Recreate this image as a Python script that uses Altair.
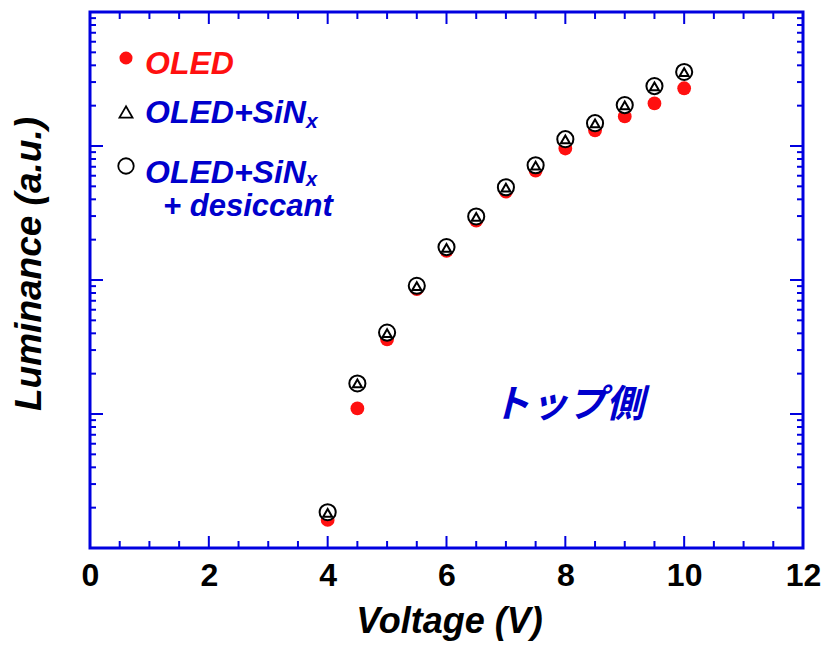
import altair as alt
import pandas as pd

# ---- data ----
voltage = [4.0, 4.5, 5.0, 5.5, 6.0, 6.5, 7.0, 7.5, 8.0, 8.5, 9.0, 9.5, 10.0]
lum_oled = [1.62, 11.0, 36.1, 85.6, 165, 277, 456, 655, 958, 1306, 1663, 2080, 2697]
lum_sin = [1.83, 16.9, 40.1, 90.2, 174, 296, 489, 714, 1119, 1475, 2011, 2790, 3553]
lum_sin_des = [1.85, 16.9, 40.5, 90.5, 176, 298, 492, 718, 1125, 1480, 2020, 2800, 3570]

x_ticks_major = [0, 2, 4, 6, 8, 10, 12]
x_ticks_minor = [0.5, 1, 1.5, 2.5, 3, 3.5, 4.5, 5, 5.5, 6.5, 7, 7.5, 8.5, 9, 9.5, 10.5, 11, 11.5]
y_ticks_major = [1, 10, 100, 1000, 10000]
y_ticks_minor = [m * d for d in [1, 10, 100, 1000] for m in range(2, 10)]

legend_labels = ["OLED", "OLED+SiN", "OLED+SiN", "+ desiccant"]
legend_sub = ["x", "x"]
annotation = ["トップ側"]
x_title = ["Voltage (V)"]
y_title = ["Luminance (a.u.)"]

BLUE = "#0000E0"
TBLUE = "#0000CC"
RED = "#FF1010"
FONT = "Liberation Sans"
W, H = 713, 536

xs = alt.Scale(domain=[0, 12], nice=False, zero=False)
ys = alt.Scale(type="log", domain=[1, 10000], nice=False)
xaxis = alt.Axis(values=x_ticks_major, format="d", ticks=False, domain=False, grid=False,
                 labelFont=FONT, labelFontSize=32, labelFontWeight="bold",
                 labelColor="black", labelPadding=12, title=None, labelFlush=False)


def X(field):
    return alt.X(field, type="quantitative", scale=xs, axis=xaxis)


def Y(field):
    return alt.Y(field, type="quantitative", scale=ys, axis=None)


df = pd.DataFrame({"v": voltage, "a": lum_oled, "b": lum_sin, "c": lum_sin_des})

red = alt.Chart(df).mark_circle(size=190, color=RED, opacity=1).encode(x=X("v"), y=Y("a"))
circ = alt.Chart(df).mark_point(shape="circle", size=260, filled=True, fill="white",
                                stroke="black", strokeWidth=2, opacity=1).encode(x=X("v"), y=Y("c"))
tri = alt.Chart(df).mark_point(shape="triangle-up", size=80, filled=True, fill="white",
                               stroke="black", strokeWidth=2, opacity=1).encode(x=X("v"), y=Y("b"))

# ticks (inward, mirrored)
dxM = pd.DataFrame({"t": x_ticks_major})
dxm = pd.DataFrame({"t": x_ticks_minor})
dyM = pd.DataFrame({"t": y_ticks_major})
dym = pd.DataFrame({"t": y_ticks_minor})
tick_layers = []
for d, ln in [(dxM, 12), (dxm, 7)]:
    tick_layers.append(alt.Chart(d).mark_rule(color=BLUE, strokeWidth=2).encode(
        x=X("t"), y=alt.value(H), y2=alt.value(H - ln)))
    tick_layers.append(alt.Chart(d).mark_rule(color=BLUE, strokeWidth=2).encode(
        x=X("t"), y=alt.value(0), y2=alt.value(ln)))
for d, ln in [(dyM, 13), (dym, 6)]:
    tick_layers.append(alt.Chart(d).mark_rule(color=BLUE, strokeWidth=2).encode(
        y=Y("t"), x=alt.value(0), x2=alt.value(ln)))
    tick_layers.append(alt.Chart(d).mark_rule(color=BLUE, strokeWidth=2).encode(
        y=Y("t"), x=alt.value(W), x2=alt.value(W - ln)))

# legend
one = pd.DataFrame({"k": [0]})
leg_red = alt.Chart(one).mark_circle(size=170, color=RED, opacity=1).encode(
    x=alt.value(36), y=alt.value(46))
leg_tri = alt.Chart(one).mark_point(shape="triangle-up", size=170, filled=True, fill="white",
                                    stroke="black", strokeWidth=1.8, opacity=1).encode(
    x=alt.value(36), y=alt.value(100))
leg_circ = alt.Chart(one).mark_point(shape="circle", size=240, filled=True, fill="white",
                                     stroke="black", strokeWidth=1.8, opacity=1).encode(
    x=alt.value(36), y=alt.value(154))


def label(txt, x, y, color, size, **kw):
    return alt.Chart(pd.DataFrame({"t": [txt]})).mark_text(
        font=FONT, fontSize=size, fontWeight="bold", fontStyle="italic",
        color=color, align="left", baseline="alphabetic", **kw).encode(
        x=alt.value(x), y=alt.value(y), text="t:N")


leg_texts = [
    label(legend_labels[0], 55, 62, RED, 32),
    label(legend_labels[1], 55, 111, TBLUE, 32),
    label(legend_sub[0], 216, 116, TBLUE, 21),
    label(legend_labels[2], 55, 171, TBLUE, 32),
    label(legend_sub[1], 216, 174, TBLUE, 20),
    label(legend_labels[3], 73, 204, TBLUE, 31),
]

anno = alt.Chart(pd.DataFrame({"t": annotation})).mark_text(
    font="Noto Sans CJK JP", fontSize=38, fontWeight="bold", fontStyle="italic",
    color=TBLUE, align="left", baseline="middle").encode(
    x=alt.value(402), y=alt.value(394), text="t:N")

xt = alt.Chart(pd.DataFrame({"t": x_title})).mark_text(
    font=FONT, fontSize=36, fontWeight="bold", fontStyle="italic", color="black",
    align="center", baseline="alphabetic").encode(
    x=alt.value(W / 2 + 3), y=alt.value(621), text="t:N")
yt = alt.Chart(pd.DataFrame({"t": y_title})).mark_text(
    font=FONT, fontSize=37, fontWeight="bold", fontStyle="italic", color="black",
    align="center", baseline="middle", angle=270).encode(
    x=alt.value(-60), y=alt.value(252), text="t:N")

chart = alt.layer(
    *tick_layers, red, circ, tri, leg_red, leg_tri, leg_circ, *leg_texts, anno, xt, yt
).properties(
    width=W, height=H,
    autosize=alt.AutoSizeParams(type="none"),
    padding={"left": 90, "top": 12, "right": 24, "bottom": 98},
    background="white",
).configure_view(stroke=BLUE, strokeWidth=3)

chart.save("out.html", embed_options={"renderer": "svg", "actions": False})
